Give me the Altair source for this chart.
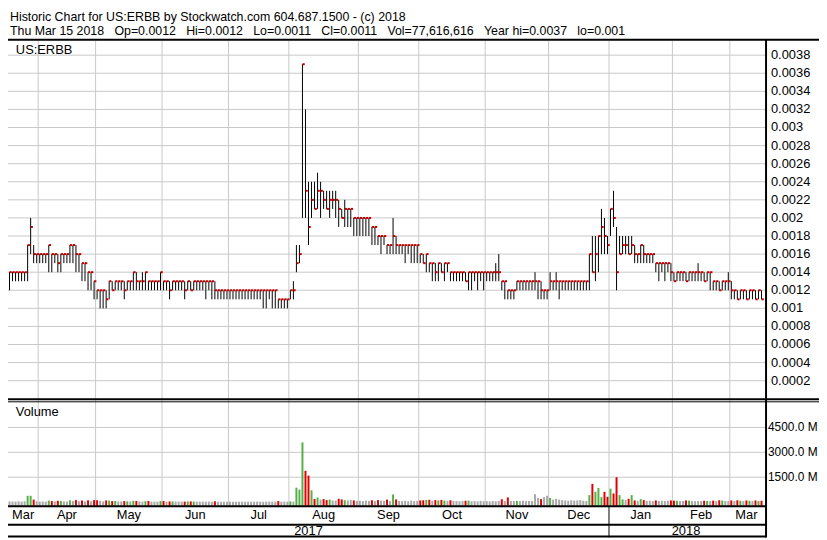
import altair as alt
import pandas as pd
import numpy as np

# ---------------- data (prices in units of 0.0001, volume in millions) ----------------
month_names = ["Mar", "Apr", "May", "Jun", "Jul", "Aug", "Sep", "Oct", "Nov", "Dec", "Jan", "Feb", "Mar"]
month_days = [10, 19, 22, 22, 20, 23, 20, 22, 21, 20, 21, 19, 11]
year_names = ["2017", "2018"]
year_months = [10, 3]

close = [
    14, 14, 14, 14, 14, 14, 17, 19, 16, 16,
    16, 16, 16, 17, 16, 16, 15, 16, 16, 16,
    17, 17, 16, 16, 15, 15, 14, 14, 13, 12,
    12, 12, 11, 13, 12, 13, 13, 13, 12, 13,
    13, 14, 13, 13, 13, 14, 13, 13, 13, 13,
    14, 13, 13, 12, 13, 13, 13, 13, 12, 13,
    12, 13, 13, 13, 13, 13, 13, 13, 12, 12,
    12, 12, 12, 12, 12, 12, 12, 12, 12, 12,
    12, 12, 12, 12, 12, 12, 12, 12, 12, 11,
    11, 11, 11, 12, 12, 15, 16, 37, 23, 19,
    22, 21, 23, 23, 22, 21, 22, 22, 22, 21,
    20, 21, 21, 21, 20, 20, 20, 20, 20, 20,
    19, 19, 18, 18, 18, 17, 17, 18, 17, 17,
    17, 17, 17, 17, 17, 17, 16, 15, 16, 15,
    15, 14, 15, 14, 15, 15, 14, 14, 14, 14,
    14, 13, 14, 14, 14, 14, 14, 14, 14, 14,
    14, 14, 14, 13, 13, 12, 12, 12, 13, 13,
    13, 13, 13, 13, 13, 13, 12, 12, 12, 13,
    13, 13, 13, 13, 13, 13, 13, 13, 13, 13,
    13, 13, 16, 14, 16, 18, 19, 18, 17, 21,
    20, 14, 16, 17, 17, 16, 17, 16, 16, 17,
    16, 16, 16, 16, 15, 15, 15, 15, 15, 14,
    13, 14, 14, 14, 13, 14, 14, 14, 14, 14,
    13, 14, 14, 13, 13, 12, 13, 13, 13, 12,
    12, 11, 12, 12, 11, 12, 12, 11, 12, 11,
]
high = [
    14, 14, 14, 14, 14, 14, 17, 20, 17, 16,
    16, 16, 16, 17, 16, 16, 16, 16, 16, 16,
    17, 17, 17, 16, 15, 15, 14, 14, 13, 12,
    12, 12, 12, 13, 13, 13, 13, 13, 13, 13,
    13, 14, 14, 13, 14, 14, 13, 13, 13, 13,
    14, 13, 13, 13, 13, 13, 13, 13, 13, 13,
    13, 13, 13, 13, 13, 13, 13, 13, 13, 12,
    12, 12, 12, 12, 12, 12, 12, 12, 12, 12,
    12, 12, 12, 12, 12, 12, 12, 12, 12, 11,
    11, 11, 11, 12, 13, 17, 17, 37, 32, 24,
    24, 24, 25, 24, 23, 23, 23, 23, 23, 22,
    21, 22, 21, 21, 20, 20, 20, 20, 20, 20,
    19, 19, 18, 18, 18, 17, 17, 20, 18, 17,
    17, 17, 17, 17, 17, 17, 16, 16, 16, 15,
    15, 15, 15, 15, 15, 15, 14, 14, 14, 14,
    14, 14, 14, 14, 14, 14, 14, 14, 14, 14,
    14, 15, 16, 13, 13, 12, 12, 12, 13, 13,
    13, 13, 13, 13, 14, 13, 13, 12, 12, 14,
    13, 14, 13, 13, 13, 13, 13, 13, 13, 13,
    13, 13, 16, 18, 18, 18, 21, 20, 18, 21,
    23, 19, 18, 18, 18, 18, 18, 17, 16, 17,
    17, 16, 16, 16, 15, 15, 15, 15, 15, 15,
    14, 14, 14, 14, 14, 14, 14, 14, 15, 14,
    14, 14, 14, 13, 13, 13, 13, 13, 14, 13,
    12, 12, 12, 12, 12, 12, 12, 12, 12, 12,
]
low = [
    12, 13, 13, 13, 13, 13, 13, 16, 15, 15,
    15, 15, 15, 14, 14, 15, 14, 14, 15, 15,
    15, 15, 14, 14, 13, 13, 12, 12, 11, 11,
    10, 10, 10, 11, 12, 12, 12, 12, 11, 12,
    12, 12, 12, 12, 12, 12, 12, 12, 12, 12,
    12, 12, 12, 11, 12, 12, 12, 12, 11, 12,
    12, 12, 12, 12, 12, 11, 12, 11, 11, 11,
    11, 11, 11, 11, 11, 11, 11, 11, 11, 11,
    11, 11, 11, 11, 10, 10, 11, 10, 10, 10,
    10, 10, 10, 11, 11, 14, 15, 20, 20, 17,
    20, 21, 21, 20, 21, 21, 20, 21, 20, 19,
    20, 19, 19, 19, 18, 18, 18, 18, 18, 18,
    17, 17, 17, 16, 17, 16, 16, 16, 16, 16,
    16, 15, 16, 15, 15, 15, 15, 15, 14, 14,
    13, 13, 13, 14, 13, 14, 13, 13, 13, 13,
    13, 13, 12, 12, 13, 12, 13, 12, 13, 13,
    13, 13, 13, 12, 11, 11, 11, 11, 12, 12,
    12, 12, 12, 12, 12, 11, 11, 11, 11, 12,
    12, 12, 11, 12, 12, 12, 12, 12, 12, 12,
    12, 12, 12, 14, 13, 14, 16, 16, 16, 18,
    19, 12, 16, 16, 16, 16, 16, 15, 15, 15,
    15, 15, 15, 15, 14, 13, 14, 13, 14, 13,
    13, 13, 13, 13, 13, 13, 13, 13, 13, 13,
    13, 13, 12, 12, 12, 12, 12, 12, 12, 11,
    11, 11, 11, 11, 11, 11, 11, 11, 11, 11,
]
volume = [
    40, 35, 30, 45, 30, 50, 380, 380, 150, 40,
    30, 35, 30, 90, 60, 40, 80, 70, 40, 35,
    110, 60, 120, 50, 100, 40, 110, 50, 120, 110,
    80, 40, 100, 90, 60, 70, 40, 40, 60, 50,
    40, 80, 70, 40, 30, 60, 70, 30, 30, 30,
    60, 60, 30, 40, 40, 30, 30, 30, 30, 40,
    40, 30, 25, 25, 30, 25, 30, 25, 50, 25,
    25, 20, 25, 30, 25, 20, 25, 25, 20, 30,
    25, 25, 30, 25, 20, 25, 30, 25, 30, 60,
    25, 30, 25, 40, 30, 870, 750, 3600, 1890, 1600,
    710, 185, 280, 150, 180, 120, 150, 100, 90, 200,
    160, 110, 100, 130, 100, 70, 80, 60, 90, 70,
    110, 60, 120, 90, 80, 150, 60, 460, 160, 70,
    60, 80, 50, 90, 60, 70, 100, 110, 130, 140,
    80, 120, 100, 130, 90, 60, 110, 70, 60, 50,
    60, 80, 90, 50, 60, 40, 70, 50, 60, 40,
    60, 50, 60, 170, 60, 280, 60, 60, 70, 60,
    80, 60, 70, 60, 480, 250, 180, 300, 380, 250,
    150, 200, 150, 120, 100, 80, 110, 90, 100, 120,
    80, 60, 420, 1100, 620, 850, 300, 620, 320, 810,
    520, 1500, 420, 160, 120, 200, 420, 100, 80, 180,
    120, 70, 80, 60, 100, 70, 80, 60, 80, 100,
    90, 80, 60, 60, 100, 90, 60, 60, 60, 60,
    80, 70, 60, 90, 60, 110, 90, 60, 60, 100,
    60, 110, 80, 60, 100, 80, 60, 100, 60, 77.6,
]
price_ticks = [2, 4, 6, 8, 10, 12, 14, 16, 18, 20, 22, 24, 26, 28, 30, 32, 34, 36, 38]
volume_ticks = [1500, 3000, 4500]
header_lines = [
    "Historic Chart for US:ERBB by Stockwatch.com 604.687.1500 - (c) 2018",
    "Thu Mar 15 2018   Op=0.0012   Hi=0.0012   Lo=0.0011   Cl=0.0011   Vol=77,616,616   Year hi=0.0037   lo=0.001",
]
symbol_label = ["US:ERBB"]
volume_label = ["Volume"]

# ---------------- layout (reference pixels mapped into the drawable area) ----------------
W, H = 819, 532
SX, SY = W / 827.0, H / 540.0


def px(v):
    return v * SX


def py(v):
    return v * SY


FONT = "Liberation Sans, Arial, sans-serif"
GRID = "#c8c8c8"
RED_TICK = "#c00000"

# ---------------- tables ----------------
n = len(close)
bars = pd.DataFrame({
    "i": np.arange(n),
    "close": np.array(close) / 10000.0,
    "high": np.array(high) / 10000.0,
    "low": np.array(low) / 10000.0,
    "vol": volume,
})
bars["i2"] = bars["i"] + 0.75
chg = pd.Series(close).diff().fillna(0)
bars["dir"] = np.where(chg > 0, "up", np.where(chg < 0, "down", "flat"))

starts = np.concatenate([[0], np.cumsum(month_days)[:-1]])
ends = np.cumsum(month_days)
months = pd.DataFrame({
    "name": month_names,
    "b": starts - 0.5,
    "mid": (starts + ends) / 2.0 - 0.5,
})
bounds = months.iloc[1:]

ycount = np.cumsum(year_months)
ystart_idx = [0] + [int(ends[c - 1]) for c in ycount[:-1]]
yend_idx = [int(ends[c - 1]) for c in ycount]
years = pd.DataFrame({
    "name": year_names,
    "b": np.array(ystart_idx) - 0.5,
    "mid": (np.array(ystart_idx) + np.array(yend_idx)) / 2.0 - 0.5,
})
year_sep = years.iloc[1:]

pt = pd.DataFrame({"v": np.array(price_ticks) / 10000.0})
pt["label"] = [("%.4f" % v).rstrip("0") for v in pt["v"]]
vt = pd.DataFrame({"v": volume_ticks})
vt["label"] = ["%.1f M" % v for v in vt["v"]]

one = pd.DataFrame({"k": [0]})

# ---------------- scales ----------------
x_scale = alt.Scale(domain=[-0.5, 250.5], range=[0, px(773)], nice=False, zero=False)
p_scale = alt.Scale(domain=[0, 0.0038], range=[py(397.9), py(45.7)], nice=False, zero=False)
v_scale = alt.Scale(domain=[0, 4500], range=[py(503.8), py(427.3)], nice=False, zero=False)

X = lambda f: alt.X(f, type="quantitative", scale=x_scale, axis=None)
YP = lambda f: alt.Y(f, type="quantitative", scale=p_scale, axis=None)
YV = lambda f: alt.Y(f, type="quantitative", scale=v_scale, axis=None)

layers = []

# grids
layers.append(alt.Chart(pt).mark_rule(color=GRID, strokeWidth=1).encode(
    y=YP("v"), x=alt.value(0), x2=alt.value(px(773))))
layers.append(alt.Chart(vt).mark_rule(color=GRID, strokeWidth=1).encode(
    y=YV("v"), x=alt.value(0), x2=alt.value(px(773))))
layers.append(alt.Chart(bounds).mark_rule(color=GRID, strokeWidth=1).encode(
    x=X("b"), y=alt.value(py(31)), y2=alt.value(py(508))))

# price bars
layers.append(alt.Chart(bars).mark_rule(color="black", strokeWidth=1).encode(
    x=X("i"), y=YP("low"), y2=alt.Y2("high")))
layers.append(alt.Chart(bars).mark_rule(color=RED_TICK, strokeWidth=2).encode(
    x=X("i"), x2=alt.X2("i2"), y=YP("close")))

# volume bars
layers.append(alt.Chart(bars).mark_rule(strokeWidth=2).encode(
    x=X("i"), y=YV("vol"), y2=alt.value(py(507.5)),
    color=alt.Color("dir:N", scale=alt.Scale(domain=["up", "down", "flat"],
                                             range=["#55b046", "#e00000", "#a8a8a8"]), legend=None)))

# frame lines
frame = alt.Chart(one)
layers.append(frame.mark_rule(color="black", strokeWidth=2).encode(
    x=alt.value(0), x2=alt.value(W), y=alt.value(py(30))))
layers.append(frame.mark_rule(color="black", strokeWidth=2).encode(
    x=alt.value(0), x2=alt.value(W), y=alt.value(py(398.5))))
layers.append(frame.mark_rule(color="black", strokeWidth=1).encode(
    x=alt.value(0), x2=alt.value(W), y=alt.value(py(401))))
layers.append(frame.mark_rule(color="black", strokeWidth=2).encode(
    x=alt.value(px(773)), y=alt.value(py(30)), y2=alt.value(H)))
for yy in (508, 527):
    layers.append(frame.mark_rule(color="black", strokeWidth=2).encode(
        x=alt.value(0), x2=alt.value(px(773)), y=alt.value(py(yy))))
layers.append(frame.mark_rule(color="black", strokeWidth=2).encode(
    x=alt.value(0), x2=alt.value(px(773)), y=alt.value(H - 1)))
layers.append(alt.Chart(year_sep).mark_rule(color="black", strokeWidth=1).encode(
    x=X("b"), y=alt.value(py(508)), y2=alt.value(H)))

# axis labels
layers.append(alt.Chart(pt).mark_text(align="left", baseline="middle", font=FONT, fontSize=13, color="black").encode(
    y=YP("v"), x=alt.value(px(778)), text="label:N"))
layers.append(alt.Chart(vt).mark_text(align="left", baseline="middle", font=FONT, fontSize=12, color="black").encode(
    y=YV("v"), x=alt.value(px(775)), text="label:N"))
layers.append(alt.Chart(months).mark_text(align="center", baseline="middle", font=FONT, fontSize=13, color="black").encode(
    x=X("mid"), y=alt.value(py(517.5)), text="name:N"))
layers.append(alt.Chart(years).mark_text(align="center", baseline="middle", font=FONT, fontSize=13, color="black").encode(
    x=X("mid"), y=alt.value(py(533.5)), text="name:N"))

# header and panel labels
nb = lambda s: s.replace(" ", "\u00a0")
layers.append(alt.Chart(pd.DataFrame({"t": [nb(header_lines[0])]})).mark_text(
    align="left", baseline="middle", font=FONT, fontSize=12.5, color="black").encode(
    x=alt.value(px(2)), y=alt.value(py(7)), text="t:N"))
layers.append(alt.Chart(pd.DataFrame({"t": [nb(header_lines[1])]})).mark_text(
    align="left", baseline="middle", font=FONT, fontSize=12.5, color="black").encode(
    x=alt.value(px(2)), y=alt.value(py(20.5)), text="t:N"))
layers.append(alt.Chart(pd.DataFrame({"t": symbol_label})).mark_text(
    align="left", baseline="middle", font=FONT, fontSize=13, color="black").encode(
    x=alt.value(px(8)), y=alt.value(py(40)), text="t:N"))
layers.append(alt.Chart(pd.DataFrame({"t": volume_label})).mark_text(
    align="left", baseline="middle", font=FONT, fontSize=13, color="black").encode(
    x=alt.value(px(8)), y=alt.value(py(411)), text="t:N"))

chart = alt.layer(*layers).resolve_scale(y="independent").properties(
    width=W, height=H, padding=0,
    autosize=alt.AutoSizeParams(type="none"),
).configure_view(stroke=None)

chart.save("out.html", embed_options={"renderer": "svg", "actions": False})
